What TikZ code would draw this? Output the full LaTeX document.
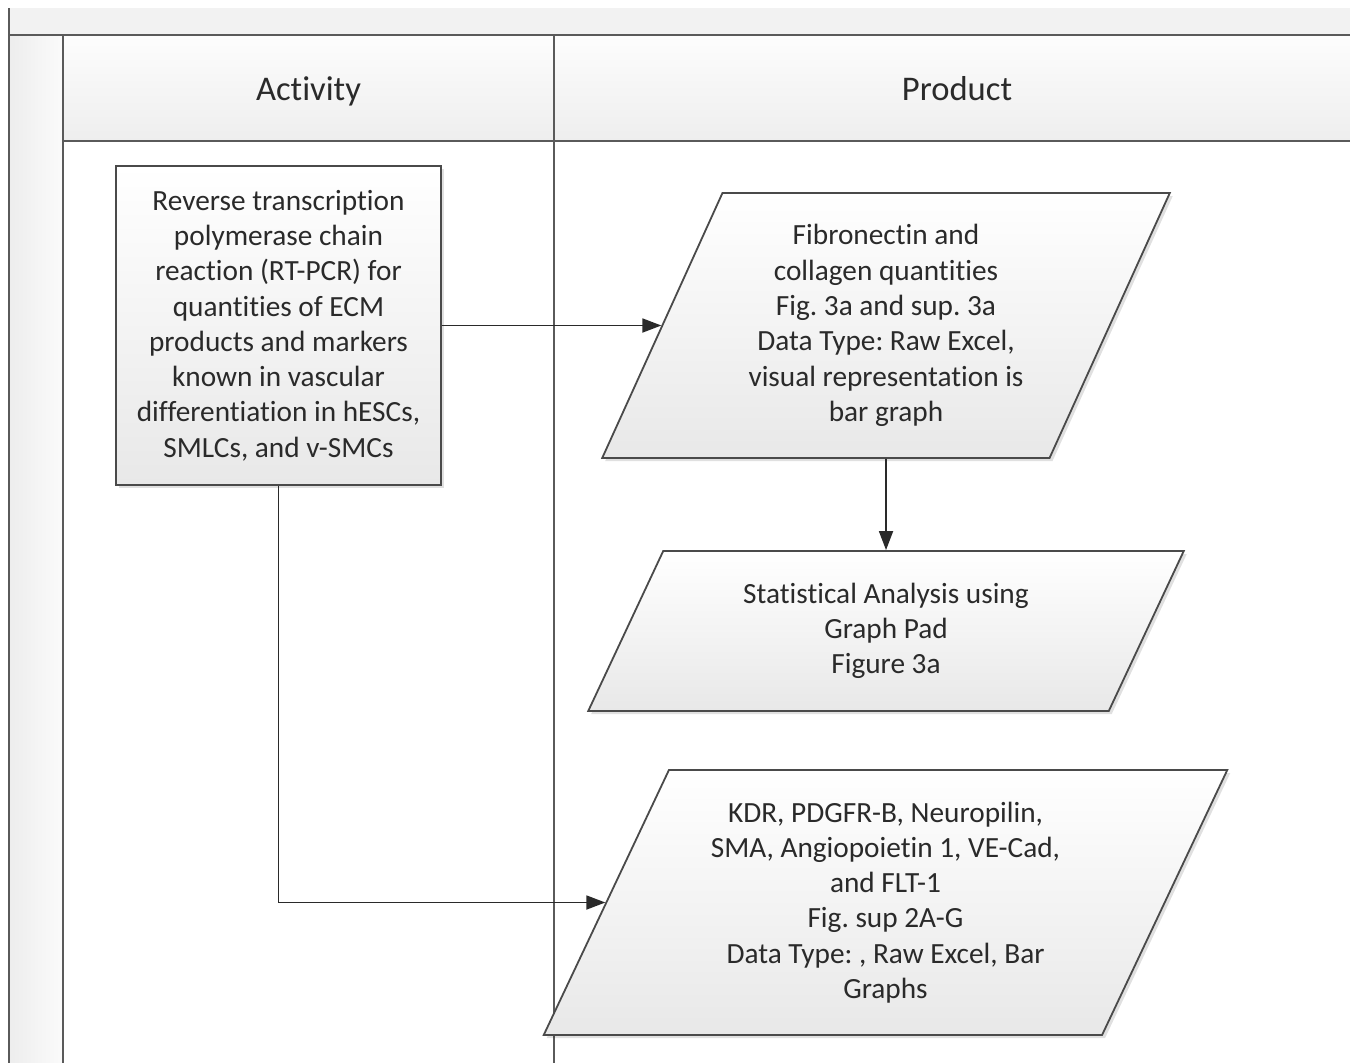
\documentclass[tikz,border=0pt]{standalone}
\usepackage{fontspec}
\setmainfont{Carlito}[Ligatures=NoCommon]
\usetikzlibrary{shapes.geometric,arrows.meta,shadows}
\definecolor{lanegray}{HTML}{5A5A5A}
\definecolor{boxline}{HTML}{4A4A4A}
\definecolor{inkgray}{HTML}{2A2A2A}
\definecolor{bandgray}{HTML}{F2F2F2}
\definecolor{stripdark}{HTML}{EDEDED}
\definecolor{stripwhite}{HTML}{FBFBFB}
\definecolor{headtop}{HTML}{FDFDFD}
\definecolor{headbot}{HTML}{EEEEEE}
\definecolor{shadebot}{HTML}{E8E8E8}
\frenchspacing

\begin{document}
\begin{tikzpicture}[x=1pt,y=-1pt,
  laneline/.style={draw=lanegray,line width=2pt},
  lanetitle/.style={font=\fontsize{34.6}{41}\selectfont,text=inkgray,inner sep=0pt,anchor=base},
  boxtext/.style={font=\fontsize{29.3}{35.3}\selectfont,text=inkgray,align=center,inner sep=0pt},
  softshadow/.style={drop shadow={shadow xshift=3pt,shadow yshift=-3pt,fill=black,opacity=0.12}},
  procbox/.style={boxtext,rectangle,draw=boxline,line width=1.8pt,
    top color=white,bottom color=shadebot,softshadow},
  databox/.style={boxtext,trapezium,trapezium left angle=63.4,trapezium right angle=116.6,
    trapezium stretches=true,draw=boxline,line width=1.8pt,
    top color=white,bottom color=shadebot,softshadow},
  flow/.style={draw=inkgray,line width=1.8pt,-{Triangle[length=19pt,width=14pt]}}
]
\useasboundingbox (0,0) rectangle (1350,1063);

% swimlane frame: title band, side strip and column headers
\fill[bandgray] (9,8) rectangle (1350,35);
\shade[left color=stripdark,right color=stripwhite] (9,35) rectangle (63,1063);
\shade[top color=headtop,bottom color=headbot] (63,35) rectangle (1350,141);
\draw[laneline] (9,8) -- (9,1063);
\draw[laneline] (9,35) -- (1350,35);
\draw[laneline] (63,35) -- (63,1063);
\draw[laneline] (63,141) -- (1350,141);
\draw[laneline] (554,35) -- (554,1063);

\node[lanetitle] (acthead) at (308.5,100) {Activity};
\node[lanetitle] (prodhead) at (957,100) {Product};

% activity
\node[procbox,minimum width=325pt,minimum height=319pt] (rtpcr) at (278.5,325.5)
  {Reverse transcription\\polymerase chain\\reaction (RT-PCR) for\\quantities of ECM\\products and markers\\known in vascular\\differentiation in hESCs,\\SMLCs, and v-SMCs};

% products
\node[databox,minimum width=569pt,minimum height=265pt] (fibro) at (886,325.5)
  {Fibronectin and\\collagen quantities\\Fig. 3a and sup. 3a\\Data Type: Raw Excel,\\visual representation is\\bar graph};
\node[databox,minimum width=598pt,minimum height=160pt] (stats) at (886,631)
  {Statistical Analysis using\\Graph Pad\\Figure 3a};
\node[databox,minimum width=689pt,minimum height=265pt] (markers) at (885.5,902.5)
  {KDR, PDGFR-B, Neuropilin,\\SMA, Angiopoietin 1, VE-Cad,\\and FLT-1\\Fig. sup 2A-G\\Data Type: , Raw Excel, Bar\\Graphs};

% connectors
\draw[flow] (rtpcr.east) -- (fibro.left side);
\draw[flow] (fibro) -- (stats);
\draw[flow] (rtpcr.south) |- (markers.left side);
\end{tikzpicture}
\end{document}
